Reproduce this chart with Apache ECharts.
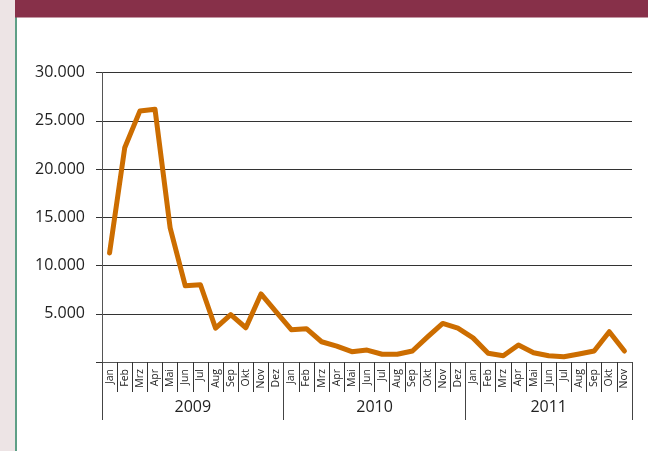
<!DOCTYPE html>
<html>
<head>
<meta charset="utf-8">
<script src="https://cdn.jsdelivr.net/npm/echarts@6/dist/echarts.min.js"></script>
<style>
html,body{margin:0;padding:0;background:#fff;}
#c{width:648px;height:451px;}
</style>
</head>
<body>
<div id="c"></div>
<script>
var months = ['Jan','Feb','Mrz','Apr','Mai','Jun','Jul','Aug','Sep','Okt','Nov','Dez',
              'Jan','Feb','Mrz','Apr','Mai','Jun','Jul','Aug','Sep','Okt','Nov','Dez',
              'Jan','Feb','Mrz','Apr','Mai','Jun','Jul','Aug','Sep','Okt','Nov'];
var years = ['2009','2010','2011'];
var yearCenters = [6, 18, 29.5];
var yearStarts = [0, 12, 24];
var values = [11300,22200,26000,26200,13900,7900,8000,3500,4900,3550,7050,5200,
              3350,3450,2100,1650,1070,1240,800,800,1140,2600,4000,3500,
              2500,900,650,1760,960,650,550,830,1140,3140,1140];
var yTicks = {min:0, max:30000, interval:5000};

function fmt(v){
  if (v === 0) return '';
  return String(v).replace(/\B(?=(\d{3})+(?!\d))/g, '.');
}

var chart = echarts.init(document.getElementById('c'), null, {renderer:'canvas'});
chart.setOption({
  animation:false,
  backgroundColor:'#fff',
  graphic:[
    {type:'rect', shape:{x:0,y:0,width:15,height:451}, style:{fill:'#ede4e5'}, z:-1},
    {type:'rect', shape:{x:15,y:0,width:2,height:451}, style:{fill:'#5e9f86'}, z:0},
    {type:'rect', shape:{x:15,y:0,width:633,height:17.5}, style:{fill:'#873049'}, z:1}
  ],
  grid:{left:102, right:16, top:72.5, bottom:89, containLabel:false},
  xAxis:[
    {
      type:'category', data:months, boundaryGap:true, position:'bottom',
      axisLine:{show:true, lineStyle:{color:'#555', width:1}},
      axisTick:{show:true, interval:0, length:30, lineStyle:{color:'#333', width:1}},
      axisLabel:{interval:0, rotate:90, margin:7, fontSize:10.5, color:'#222', fontFamily:'Open Sans'}
    },
    {
      type:'category', data:months, boundaryGap:true, position:'bottom',
      axisLine:{show:false},
      axisTick:{show:true, length:58, interval:function(i){ return yearStarts.indexOf(i) >= 0; }, lineStyle:{color:'#444', width:1}},
      axisLabel:{show:false}, splitLine:{show:false}
    },
    {
      type:'value', min:0, max:months.length, interval:0.5, position:'bottom',
      axisLine:{show:false}, axisTick:{show:false}, splitLine:{show:false},
      axisLabel:{
        margin:37, fontSize:16, color:'#222', fontFamily:'Open Sans',
        showMinLabel:true, showMaxLabel:true,
        formatter:function(v){
          for (var k=0;k<yearCenters.length;k++){ if (Math.abs(v-yearCenters[k])<1e-6) return years[k]; }
          return '';
        }
      }
    }
  ],
  yAxis:{
    type:'value', min:yTicks.min, max:yTicks.max, interval:yTicks.interval,
    axisLine:{show:true, lineStyle:{color:'#555', width:1}},
    axisTick:{show:true, length:6, lineStyle:{color:'#333'}},
    splitLine:{show:true, lineStyle:{color:'#333', width:1}},
    axisLabel:{margin:17, fontSize:16, color:'#222', fontFamily:'Open Sans', formatter:fmt}
  },
  series:[{
    type:'line', data:values, xAxisIndex:0, symbol:'none', smooth:false,
    lineStyle:{color:'#cc6d00', width:5, cap:'round', join:'round'}
  }]
});
</script>
</body>
</html>
